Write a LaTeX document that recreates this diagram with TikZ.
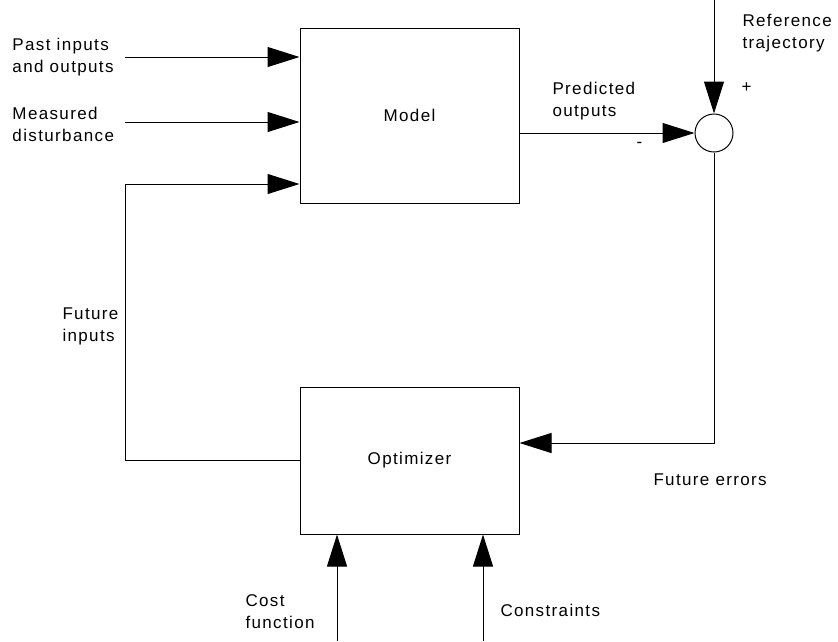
\documentclass[tikz,border=0pt]{standalone}
\usepackage{fontspec}
\setmainfont{Liberation Sans}[LetterSpace=8]
\usetikzlibrary{positioning}
\usetikzlibrary{arrows.meta}
\tikzstyle{block} = [rectangle, draw, minimum width=219pt, inner sep=0pt,
                font=\fontsize{17}{22}\selectfont]
\tikzstyle{line} = [draw, -{Triangle[length=32pt,width=20pt]}]
\tikzstyle{lbl} = [align=left, anchor=west, inner sep=0pt,
                font=\fontsize{17}{22}\selectfont]

\begin{document}
\begin{tikzpicture}[x=1pt, y=-1pt, line width=1pt]
                \useasboundingbox (0,0) rectangle (838,641);
                \node[block, minimum height=175pt](model) at (409.5,115.5){Model};
                \node[block, minimum height=147pt](optimizer) at (409.5,460.5){Optimizer};
                \node[circle, draw, minimum size=38pt, inner sep=0pt](sum) at (714,133){};
                \coordinate (pin) at (125,57);
                \coordinate (md) at (125,122);
                \coordinate (fb) at (125,184);
                \coordinate (ref) at (714,0);
                \coordinate (err) at (714,443);
                \coordinate (cost) at (337,641);
                \coordinate (cons) at (483,641);
                \path[line] (pin) -- (pin -| model.west);
                \path[line] (md) -- (md -| model.west);
                \path[line] (optimizer.west) -| (fb) -- (fb -| model.west);
                \path[line] (model.east |- sum) -- (sum.west);
                \path[line] (ref) -- (sum.north);
                \path[line] (sum.south) -- (err) -- (err -| optimizer.east);
                \path[line] (cost) -- (cost |- optimizer.south);
                \path[line] (cons) -- (cons |- optimizer.south);
                \node[lbl] (pastlbl) at (12,57) {Past inputs\\and outputs};
                \node[lbl] (mdlbl) at (12,124) {Measured\\disturbance};
                \node[lbl] (fblbl) at (62,326) {Future\\inputs};
                \node[lbl] (predlbl) at (552,101) {Predicted\\outputs};
                \node[lbl] (reflbl) at (742,33) {Reference\\trajectory};
                \node[lbl] (plus) at (741,88) {+};
                \node[lbl] (minus) at (636,145) {-};
                \node[lbl] (errlbl) at (653,480) {Future errors};
                \node[lbl] (costlbl) at (245,612) {Cost\\function};
                \node[lbl] (conslbl) at (500,610) {Constraints};
            \end{tikzpicture}
\end{document}
